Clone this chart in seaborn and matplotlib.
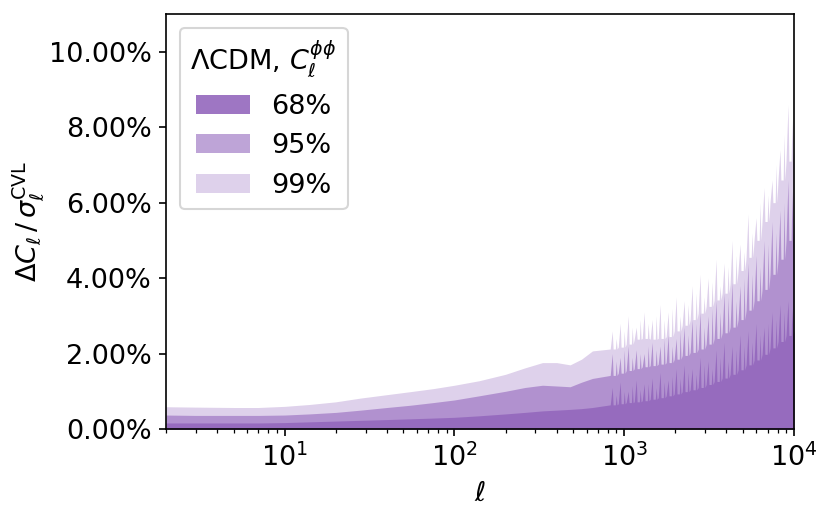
import matplotlib
matplotlib.use('Agg')
import matplotlib.pyplot as plt
from matplotlib.ticker import PercentFormatter
import numpy as np
import seaborn as sns

"""
Spread of Delta C_ell / sigma_CVL for the LCDM lensing spectrum,
68 / 95 / 99 % bands on a log-ell axis.
"""

# smooth part of the bands
ell_smooth = [2, 3, 5, 7, 10, 14, 20, 28, 40, 55, 75, 100, 140, 200, 260, 330, 400, 480, 560, 650]
band99_smooth = [0.0059, 0.0058, 0.0057, 0.0057, 0.0060, 0.0065, 0.0072, 0.0082, 0.0091, 0.0099,
                 0.0107, 0.0116, 0.0128, 0.0145, 0.0162, 0.0176, 0.0176, 0.0170, 0.0185, 0.0207]
band95_smooth = [0.0037, 0.0036, 0.0036, 0.0036, 0.0037, 0.0040, 0.0044, 0.0050, 0.0057, 0.0063,
                 0.0070, 0.0077, 0.0088, 0.0100, 0.0110, 0.0116, 0.0114, 0.0112, 0.0124, 0.0134]
band68_smooth = [0.0016, 0.0016, 0.0016, 0.0016, 0.0017, 0.0019, 0.0021, 0.0023, 0.0025, 0.0027,
                 0.0029, 0.0031, 0.0035, 0.0040, 0.0044, 0.0048, 0.0050, 0.0052, 0.0054, 0.0057]

# noisy high-ell part: floor values and two sets of spike tops
ell_floor = [827, 922, 1027, 1145, 1276, 1422, 1585, 1766, 1969, 2194, 2445, 2725,
             3037, 3384, 3771, 4202, 4683, 5219, 5816, 6482, 7223, 8050, 8973, 10000]
ell_spike = [850, 947, 1056, 1177, 1311, 1461, 1628, 1815, 2023, 2254, 2512, 2800,
             3120, 3477, 3875, 4318, 4812, 5362, 5976, 6660, 7422, 8272, 9220]
ell_spike2 = [897, 1000, 1115, 1242, 1384, 1542, 1719, 1916, 2135, 2379, 2652, 2955,
              3293, 3670, 4090, 4558, 5080, 5661, 6310, 7032, 7837, 8734, 9732]

band99_floor = [0.0212, 0.0217, 0.0225, 0.0238, 0.0240, 0.0238, 0.0240, 0.0245, 0.0260, 0.0275,
                0.0290, 0.0307, 0.0325, 0.0342, 0.0360, 0.0385, 0.0420, 0.0455, 0.0500, 0.0550,
                0.0600, 0.0660, 0.0710, 0.0750]
band99_spike = [0.026, 0.028, 0.030, 0.027, 0.031, 0.029, 0.033, 0.031, 0.035, 0.034, 0.038, 0.041,
                0.040, 0.045, 0.044, 0.050, 0.049, 0.057, 0.056, 0.064, 0.066, 0.074, 0.086]
band99_spike2 = [0.024, 0.026, 0.027, 0.029, 0.028, 0.030, 0.029, 0.032, 0.030, 0.033, 0.036, 0.035,
                 0.039, 0.038, 0.043, 0.046, 0.047, 0.052, 0.060, 0.062, 0.070, 0.078, 0.082]

band95_floor = [0.0142, 0.0148, 0.0155, 0.0160, 0.0165, 0.0168, 0.0172, 0.0176, 0.0185, 0.0195,
                0.0203, 0.0212, 0.0225, 0.0240, 0.0255, 0.0270, 0.0290, 0.0315, 0.0340, 0.0370,
                0.0410, 0.0450, 0.0500, 0.0550]
band95_spike = [0.020, 0.019, 0.022, 0.021, 0.020, 0.023, 0.022, 0.025, 0.024, 0.027, 0.029, 0.031,
                0.030, 0.034, 0.036, 0.039, 0.038, 0.044, 0.046, 0.050, 0.055, 0.058, 0.066]
band95_spike2 = [0.018, 0.021, 0.019, 0.020, 0.022, 0.021, 0.024, 0.022, 0.026, 0.025, 0.028, 0.027,
                 0.032, 0.031, 0.035, 0.034, 0.040, 0.041, 0.043, 0.049, 0.052, 0.060, 0.063]

band68_floor = [0.0064, 0.0067, 0.0070, 0.0072, 0.0075, 0.0079, 0.0083, 0.0088, 0.0093, 0.0099,
                0.0104, 0.0110, 0.0118, 0.0126, 0.0135, 0.0145, 0.0157, 0.0170, 0.0183, 0.0198,
                0.0215, 0.0232, 0.0248, 0.0260]
band68_spike = [0.011, 0.0125, 0.010, 0.013, 0.012, 0.0135, 0.015, 0.013, 0.016, 0.017, 0.016, 0.019,
                0.018, 0.021, 0.023, 0.022, 0.025, 0.026, 0.028, 0.027, 0.031, 0.033, 0.034]
band68_spike2 = [0.009, 0.010, 0.0115, 0.0105, 0.012, 0.011, 0.0125, 0.014, 0.0135, 0.015, 0.0145, 0.017,
                 0.016, 0.019, 0.018, 0.021, 0.022, 0.023, 0.025, 0.028, 0.029, 0.031, 0.032]

labels = ['68%', '95%', '99%']
alphas = [0.9, 0.6, 0.3]


def build_band(smooth, floor, spike, spike2):
    """glue smooth part and spiky part into one outline"""
    xs = list(ell_smooth)
    ys = list(smooth)
    for i in range(len(ell_spike)):
        xs += [ell_floor[i], ell_spike[i], ell_spike[i] * 1.012,
               ell_spike2[i] / 1.012, ell_spike2[i], ell_spike2[i] * 1.012]
        ys += [floor[i], spike[i], floor[i], floor[i], spike2[i], floor[i]]
    xs.append(ell_floor[-1])
    ys.append(floor[-1])
    return np.array(xs), np.array(ys)


sns.set_style('ticks')
plt.rcParams['font.family'] = ['DejaVu Sans']
plt.rcParams['font.size'] = 13
plt.rcParams['text.color'] = 'black'
plt.rcParams['axes.labelcolor'] = 'black'
plt.rcParams['xtick.color'] = 'black'
plt.rcParams['ytick.color'] = 'black'
plt.rcParams['axes.edgecolor'] = 'black'
plt.rcParams['mathtext.fontset'] = 'dejavusans'

fig = plt.figure(figsize=(831 / 150, 515 / 150), dpi=150)
ax = fig.add_axes([166 / 831, 1 - 429 / 515, (794 - 166) / 831, (429 - 14) / 515])

bands = {
    '99%': build_band(band99_smooth, band99_floor, band99_spike, band99_spike2),
    '95%': build_band(band95_smooth, band95_floor, band95_spike, band95_spike2),
    '68%': build_band(band68_smooth, band68_floor, band68_spike, band68_spike2),
}
handles = {}
for lab, a in zip(labels[::-1], alphas[::-1]):
    x, y = bands[lab]
    handles[lab] = ax.fill_between(x, 0, y, color='tab:purple', alpha=a, lw=0, label=lab)

ax.set_xscale('log')
ax.set_xlim(2, 1e4)
ax.set_ylim(0, 0.11)
ax.set_yticks([0, 0.02, 0.04, 0.06, 0.08, 0.10])
ax.yaxis.set_major_formatter(PercentFormatter(xmax=1, decimals=2))
ax.tick_params(labelsize=13)
ax.set_xlabel(r'$\ell$', fontsize=13)
ax.set_ylabel(r'$\Delta C_\ell\,/\,\sigma_\ell^{\rm CVL}$', fontsize=13, labelpad=1)

ax.legend([handles[l] for l in labels], labels, loc='upper left',
          title=r'$\Lambda$CDM, $C_\ell^{\phi\phi}$', fontsize=13, title_fontsize=13)

fig.savefig('out.png', dpi=150)
